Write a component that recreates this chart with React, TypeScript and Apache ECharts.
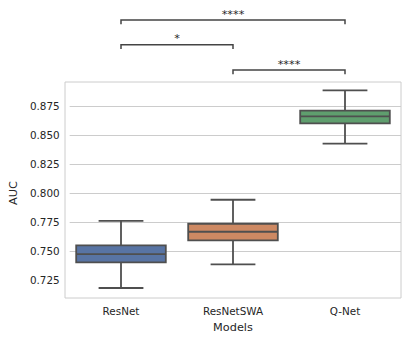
import React, { useEffect, useRef } from 'react';
import * as echarts from 'echarts';

// ---- data ----
const categories = ['ResNet', 'ResNetSWA', 'Q-Net'];
const whiskerLow = [0.7181, 0.7385, 0.8425];
const q1 = [0.7402, 0.7591, 0.86];
const median = [0.7474, 0.7666, 0.866];
const q3 = [0.7548, 0.7735, 0.871];
const whiskerHigh = [0.776, 0.7942, 0.8884];
const boxColors = ['#5874a4', '#cd8963', '#5f9e6e'];

const yTicks = [0.725, 0.75, 0.775, 0.8, 0.825, 0.85, 0.875];

// significance annotations
const pairStart = [0, 0, 1];
const pairEnd = [2, 1, 2];
const pairLevel = [0.9491, 0.9279, 0.906];
const pairText = ['****', '*', '****'];

// ---- layout ----
const Y_MIN = 0.7095;
const Y_MAX = 0.8957;
const TICK_MIN = 0.7;
const TICK_MAX = 0.9;
const W = 407;
const H = 342;
const G_LEFT = 65;
const G_RIGHT = 6;
const G_TOP = 82;
const G_BOTTOM = 44;
const pxPerUnit = (H - G_TOP - G_BOTTOM) / (Y_MAX - Y_MIN);
const G1_TOP = G_TOP - (TICK_MAX - Y_MAX) * pxPerUnit;
const G1_BOTTOM = G_BOTTOM - (Y_MIN - TICK_MIN) * pxPerUnit;

const TEXT = '#262626';
const LINE = '#4f4f4f';
const FONT = 'DejaVu Sans';

export default function App() {
  const ref = useRef<HTMLDivElement>(null);
  useEffect(() => {
    if (!ref.current) return;
    const chart = echarts.init(ref.current, undefined, { renderer: 'svg' });
    const boxData = categories.map((_, i) => [i, whiskerLow[i], q1[i], median[i], q3[i], whiskerHigh[i]]);
    const pairData = pairStart.map((s, i) => [s, pairEnd[i], pairLevel[i]]);
    const nLines = Math.round((TICK_MAX - TICK_MIN) / 0.025) + 1;
    const splitColors = Array.from({ length: nLines }, (_, i) =>
      i === 0 || i === nLines - 1 ? 'rgba(0,0,0,0)' : '#cccccc'
    );

    chart.setOption({
      animation: false,
      backgroundColor: '#ffffff',
      textStyle: { fontFamily: FONT, color: TEXT },
      grid: [
        {
          left: G_LEFT, right: G_RIGHT, top: G_TOP, bottom: G_BOTTOM,
          show: true, borderColor: '#cccccc', borderWidth: 1, backgroundColor: 'rgba(0,0,0,0)', z: 3,
        },
        { left: G_LEFT, right: G_RIGHT, top: G1_TOP, bottom: G1_BOTTOM, show: false },
      ],
      xAxis: [
        {
          type: 'category', gridIndex: 0, data: categories,
          axisLine: { show: false }, axisTick: { show: false }, splitLine: { show: false },
          axisLabel: { color: TEXT, fontSize: 10.4, fontFamily: FONT, margin: 8 },
          name: 'Models', nameLocation: 'middle', nameGap: 24,
          nameTextStyle: { color: TEXT, fontSize: 11.3, fontFamily: FONT },
        },
        { type: 'category', gridIndex: 1, data: categories, show: false },
      ],
      yAxis: [
        { type: 'value', gridIndex: 0, min: Y_MIN, max: Y_MAX, show: false, splitLine: { show: false } },
        {
          type: 'value', gridIndex: 1, min: TICK_MIN, max: TICK_MAX, interval: 0.025,
          axisLine: { show: false }, axisTick: { show: false },
          splitLine: { show: true, showMinLine: false, showMaxLine: false, lineStyle: { color: splitColors, width: 1 } },
          axisLabel: {
            color: TEXT, fontSize: 10.4, fontFamily: FONT, margin: 10,
            showMinLabel: false, showMaxLabel: false,
            formatter: (v: number) => (yTicks.some((t) => Math.abs(t - v) < 1e-6) ? v.toFixed(3) : ''),
          },
          name: 'AUC', nameLocation: 'middle', nameGap: 45, nameRotate: 90,
          nameTextStyle: { color: TEXT, fontSize: 11.3, fontFamily: FONT },
        },
      ],
      series: [
        {
          type: 'custom',
          xAxisIndex: 0, yAxisIndex: 0,
          clip: false,
          z: 5,
          data: boxData,
          renderItem: (params: any, api: any) => {
            const x = api.value(0);
            const idx = params.dataIndex;
            const bandW = api.size([1, 0])[0];
            const boxW = bandW * 0.8;
            const capW = boxW / 2;
            const pLow = api.coord([x, api.value(1)]);
            const pQ1 = api.coord([x, api.value(2)]);
            const pMed = api.coord([x, api.value(3)]);
            const pQ3 = api.coord([x, api.value(4)]);
            const pHigh = api.coord([x, api.value(5)]);
            const cx = pMed[0];
            const ls = { stroke: LINE, lineWidth: 1.8 };
            return {
              type: 'group',
              children: [
                { type: 'line', shape: { x1: cx, y1: pQ1[1], x2: cx, y2: pLow[1] }, style: ls },
                { type: 'line', shape: { x1: cx, y1: pQ3[1], x2: cx, y2: pHigh[1] }, style: ls },
                { type: 'line', shape: { x1: cx - capW / 2, y1: pLow[1], x2: cx + capW / 2, y2: pLow[1] }, style: ls },
                { type: 'line', shape: { x1: cx - capW / 2, y1: pHigh[1], x2: cx + capW / 2, y2: pHigh[1] }, style: ls },
                {
                  type: 'rect',
                  shape: { x: cx - boxW / 2, y: pQ3[1], width: boxW, height: pQ1[1] - pQ3[1] },
                  style: { fill: boxColors[idx], stroke: LINE, lineWidth: 1.8 },
                },
                { type: 'line', shape: { x1: cx - boxW / 2, y1: pMed[1], x2: cx + boxW / 2, y2: pMed[1] }, style: ls },
              ],
            };
          },
        },
        {
          type: 'custom',
          xAxisIndex: 0, yAxisIndex: 0,
          clip: false,
          z: 5,
          data: pairData,
          renderItem: (params: any, api: any) => {
            const a = api.coord([api.value(0), api.value(2)]);
            const b = api.coord([api.value(1), api.value(2)]);
            const tick = 4.3;
            return {
              type: 'group',
              children: [
                {
                  type: 'polyline',
                  shape: { points: [[a[0], a[1] + tick], [a[0], a[1]], [b[0], a[1]], [b[0], a[1] + tick]] },
                  style: { stroke: '#444444', lineWidth: 1.5, fill: 'none' },
                },
                {
                  type: 'text',
                  x: (a[0] + b[0]) / 2,
                  y: a[1] - 6,
                  style: {
                    text: pairText[params.dataIndex],
                    fill: TEXT,
                    font: `11.3px "${FONT}"`,
                    align: 'center',
                    verticalAlign: 'middle',
                  },
                },
              ],
            };
          },
        },
      ],
    });
    return () => chart.dispose();
  }, []);
  return <div ref={ref} style={{ position: 'fixed', left: 0, top: 0, width: W, height: H }} />;
}
